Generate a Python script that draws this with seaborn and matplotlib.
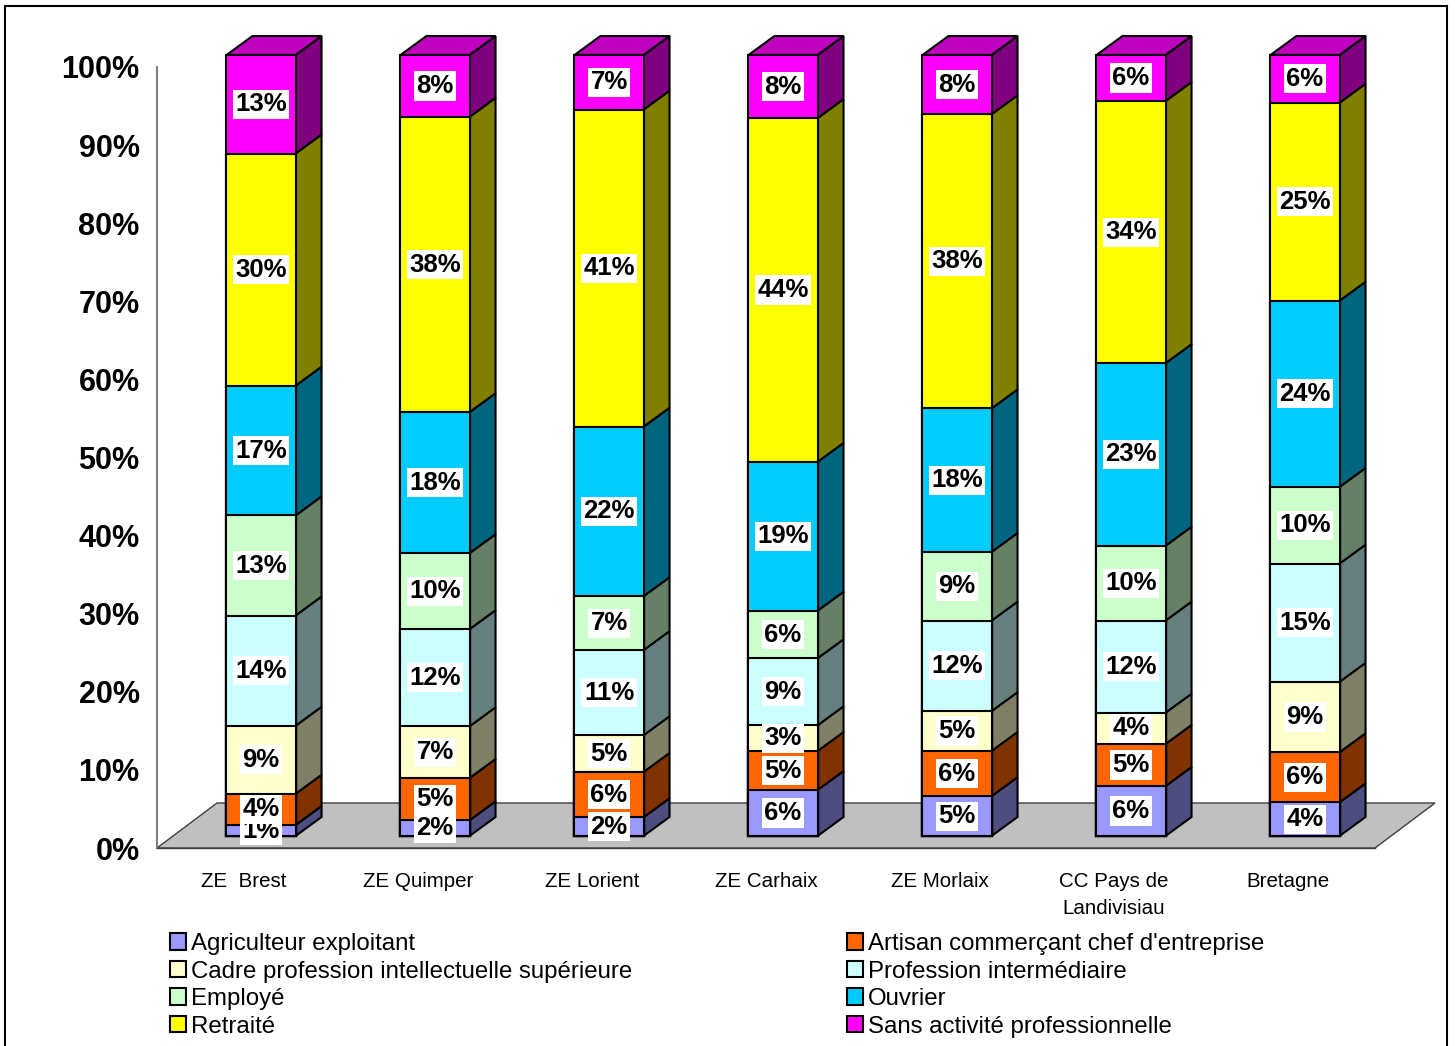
import numpy as np
import matplotlib
matplotlib.use("Agg")
import matplotlib.pyplot as plt
import matplotlib.transforms as mtransforms
from matplotlib.patches import Polygon, Rectangle
from matplotlib.colors import to_rgb
import seaborn as sns

# --- data (percent of population by zone) ---
categories = ["ZE  Brest", "ZE Quimper", "ZE Lorient", "ZE Carhaix",
              "ZE Morlaix", "CC Pays de\nLandivisiau", "Bretagne"]
groups = ["Agriculteur exploitant", "Artisan commerçant chef d'entreprise",
          "Cadre profession intellectuelle supérieure", "Profession intermédiaire",
          "Employé", "Ouvrier", "Retraité", "Sans activité professionnelle"]

agriculteur = [1.4, 2.0, 2.4, 5.9, 5.1, 6.4, 4.3]
artisan = [4.0, 5.4, 5.8, 5.0, 5.8, 5.4, 6.4]
cadre = [8.7, 6.6, 4.7, 3.3, 5.1, 4.0, 9.0]
prof_inter = [14.1, 12.4, 10.9, 8.6, 11.6, 11.8, 15.1]
employe = [12.8, 9.7, 6.9, 6.1, 8.8, 9.6, 9.8]
ouvrier = [16.6, 18.0, 21.7, 19.1, 18.4, 23.4, 23.8]
retraite = [29.7, 37.7, 40.6, 44.1, 37.7, 33.6, 25.3]
sans_activite = [12.6, 7.9, 7.0, 8.1, 7.6, 5.9, 6.1]

colors = ["#9999FF", "#FF6600", "#FFFFCC", "#CCFFFF",
          "#CCFFCC", "#00CCFF", "#FFFF00", "#FF00FF"]

sns.set_style("white")
plt.rcParams["font.family"] = ["Liberation Sans", "DejaVu Sans"]
plt.rcParams["text.color"] = "black"
plt.rcParams["xtick.color"] = "black"
plt.rcParams["ytick.color"] = "black"

W, H = 1455, 1046
fig = plt.figure(figsize=(W / 100, H / 100), dpi=100)
ax = fig.add_axes([157 / W, 1 - 848 / H, 1218 / W, 781 / H])

values = np.array([agriculteur, artisan, cadre, prof_inter,
                   employe, ouvrier, retraite, sans_activite])
shares = values / values.sum(axis=0) * 100   # 100% stacked, like Excel
tops = shares.cumsum(axis=0)

# pixel scale of the axes (for the fake 3D depth)
ux = 1218 / 7
uy = 781 / 100
bw = 0.397
ddx, ddy = 26 / ux, 19 / uy

# front faces: overdraw cumulative totals, top layer first
for k in range(len(groups) - 1, -1, -1):
    sns.barplot(x=categories, y=tops[k], color=colors[k], saturation=1,
                width=bw, edgecolor="black", linewidth=1.5, errorbar=None,
                ax=ax, zorder=3)

# bars sit a bit behind the floor front edge
shift = ax.transData + mtransforms.ScaledTranslation(17 / 100, 12 / 100, fig.dpi_scale_trans)
for p in ax.patches:
    p.set_transform(shift)
    p.set_clip_on(False)

def shade(c, f):
    r, g, b = to_rgb(c)
    return (r * f, g * f, b * f)

# side faces and top faces
for i in range(len(categories)):
    left, right = i - bw / 2, i + bw / 2
    for k in range(len(groups)):
        y0, y1 = tops[k, i] - shares[k, i], tops[k, i]
        ax.add_patch(Polygon([(right, y0), (right + ddx, y0 + ddy),
                              (right + ddx, y1 + ddy), (right, y1)],
                             closed=True, fc=shade(colors[k], 0.5), ec="black",
                             lw=1.5, transform=shift, zorder=2.9, clip_on=False))
    ytop = tops[-1, i]
    ax.add_patch(Polygon([(left, ytop), (right, ytop), (right + ddx, ytop + ddy),
                          (left + ddx, ytop + ddy)],
                         closed=True, fc=shade(colors[-1], 0.75), ec="black",
                         lw=1.5, transform=shift, zorder=2.9, clip_on=False))

# floor
fdx, fdy = 60 / ux, 45 / uy
ax.add_patch(Polygon([(-0.5, 0), (6.5, 0), (6.5 + fdx, fdy), (-0.5 + fdx, fdy)],
                     closed=True, fc="#C0C0C0", ec="#404040", lw=1,
                     zorder=1, clip_on=False))

# value labels
for i in range(len(categories)):
    for k in range(len(groups)):
        mid = tops[k, i] - shares[k, i] / 2
        ax.text(i, mid, f"{values[k, i]:.0f}%", transform=shift,
                ha="center", va="center", fontsize=18.5, fontweight="bold",
                color="black",
                bbox=dict(boxstyle="square,pad=0.1", fc="white", ec="none"),
                zorder=10 + k, clip_on=False)

# axes
ax.set_xlim(-0.5, 6.5)
ax.set_ylim(0, 100)
ax.set_xlabel("")
ax.set_ylabel("")
ax.set_yticks(range(0, 101, 10))
ax.set_yticklabels([f"{v}%" for v in range(0, 101, 10)], fontsize=22, fontweight="bold")
ax.tick_params(axis="y", length=9, width=1.3, color="#808080", pad=3.5)
ax.set_xticks(range(len(categories)))
ax.set_xticklabels(categories, fontsize=14.8, linespacing=1.5)
ax.tick_params(axis="x", which="major", length=0, pad=17.5)
ax.set_xticks(np.arange(-0.5, 7, 1), minor=True)
ax.tick_params(axis="x", which="minor", length=10, width=1.3, color="#808080")
sns.despine(ax=ax, top=True, right=True)
ax.spines["left"].set_color("#808080")
ax.spines["left"].set_linewidth(1.5)
ax.spines["bottom"].set_color("#404040")
ax.spines["bottom"].set_linewidth(1)
ax.set_facecolor("none")

# legend, two columns
order = [0, 2, 4, 6, 1, 3, 5, 7]
handles = [Rectangle((0, 0), 1, 1, fc=colors[k], ec="black", lw=1.5) for k in order]
fig.legend(handles, [groups[k] for k in order], loc="upper left",
           bbox_to_anchor=(170 / W, 1 - 933 / H), ncol=2, frameon=False,
           fontsize=17.3, handlelength=0.68, handleheight=0.68, handletextpad=0.2,
           labelspacing=0.23, columnspacing=8.93, borderpad=0, borderaxespad=0)

# chart border
fig.patches.append(Rectangle((5 / W, -0.05), (1447 - 5) / W, 1 - 6 / H + 0.05,
                             transform=fig.transFigure, fill=False, ec="black", lw=1.5))

fig.savefig("out.png", dpi=100)
